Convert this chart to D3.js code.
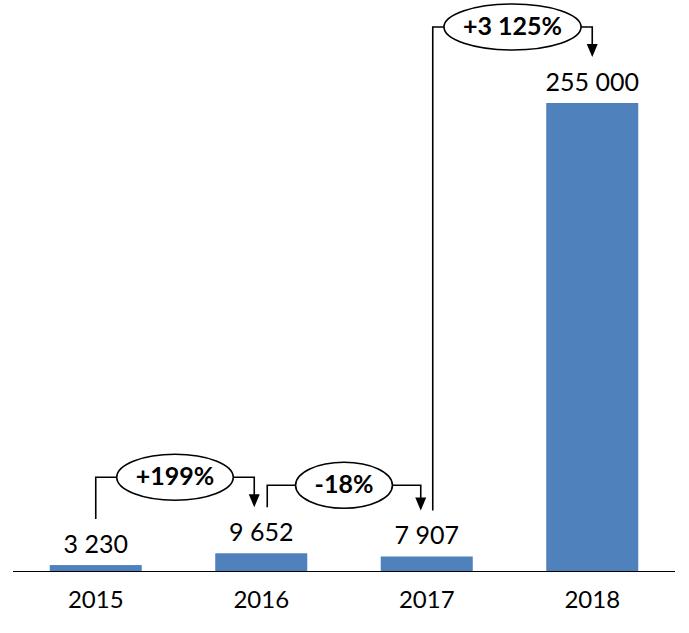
<!DOCTYPE html>
<html>
<head>
<meta charset="utf-8">
<script src="https://cdn.jsdelivr.net/npm/d3@7"></script>
<style>
  body { margin: 0; background: #fff; }
  text { font-family: Lato, "Open Sans", sans-serif; fill: #000; }
</style>
</head>
<body>
<div id="container"></div>
<script>
var width = 689,
    height = 633;

// data
var years = ["2015", "2016", "2017", "2018"];
var values = [3230, 9652, 7907, 255000];
var valueLabels = ["3 230", "9 652", "7 907", "255 000"];
var changeLabels = ["+199%", "-18%", "+3 125%"];

// annotation layout tweaks (start/end x shift from bar centre, rise above lower end)
var startShift = [0, 6, 6],
    endShift = [-7, -6, 0],
    rise = [30, 22, 30];

var svg = d3.select("#container").append("svg")
  .attr("width", width)
  .attr("height", height);

var x = d3.scaleBand()
  .domain(years)
  .range([13, 675])
  .paddingInner(0.444)
  .paddingOuter(0.222);

var y = d3.scaleLinear()
  .domain([0, 255000])
  .range([571, 103]);

var cx = function(i) { return x(years[i]) + x.bandwidth() / 2; };

// bars
svg.append("g")
  .selectAll("rect")
  .data(values)
  .enter().append("rect")
  .attr("x", function(d, i) { return x(years[i]); })
  .attr("y", function(d) { return y(d); })
  .attr("width", x.bandwidth())
  .attr("height", function(d) { return y(0) - y(d); })
  .attr("fill", "#4f81bd");

// baseline
svg.append("line")
  .attr("x1", x.range()[0]).attr("x2", x.range()[1])
  .attr("y1", y(0) + 0.5).attr("y2", y(0) + 0.5)
  .attr("stroke", "#000")
  .attr("stroke-width", 1);

// value labels
svg.append("g")
  .selectAll("text")
  .data(values)
  .enter().append("text")
  .attr("x", function(d, i) { return cx(i); })
  .attr("y", function(d) { return y(d) - 12; })
  .attr("text-anchor", "middle")
  .attr("font-size", 25)
  .text(function(d, i) { return valueLabels[i]; });

// year labels
svg.append("g")
  .selectAll("text")
  .data(years)
  .enter().append("text")
  .attr("x", function(d, i) { return cx(i); })
  .attr("y", 608)
  .attr("text-anchor", "middle")
  .attr("font-size", 24)
  .text(function(d) { return d; });

// change annotations
var ann = svg.append("g");
changeLabels.forEach(function(lab, i) {
  var x0 = cx(i) + startShift[i],
      x1 = cx(i + 1) + endShift[i],
      y0 = y(values[i]) - 46,
      y1 = y(values[i + 1]) - 46,
      level = Math.min(y0, y1) - rise[i],
      mid = (x0 + x1) / 2;

  var t = ann.append("text")
    .attr("x", mid)
    .attr("y", level + 8)
    .attr("text-anchor", "middle")
    .attr("font-size", 25)
    .attr("font-weight", "bold")
    .text(lab);
  var rx = t.node().getComputedTextLength() / 2 + 19,
      ry = 23;

  ann.append("path")
    .attr("d", "M" + x0 + "," + y0 + "V" + level + "H" + (mid - rx)
      + "M" + (mid + rx) + "," + level + "H" + x1 + "V" + (y1 - 12))
    .attr("fill", "none")
    .attr("stroke", "#000")
    .attr("stroke-width", 1.6);

  ann.append("path")
    .attr("d", "M" + (x1 - 5.5) + "," + (y1 - 13) + "L" + (x1 + 5.5) + "," + (y1 - 13) + "L" + x1 + "," + y1 + "Z")
    .attr("fill", "#000");

  ann.insert("ellipse", "text")
    .attr("cx", mid)
    .attr("cy", level)
    .attr("rx", rx)
    .attr("ry", ry)
    .attr("fill", "#fff")
    .attr("stroke", "#000")
    .attr("stroke-width", 1.6);
});
</script>
</body>
</html>
